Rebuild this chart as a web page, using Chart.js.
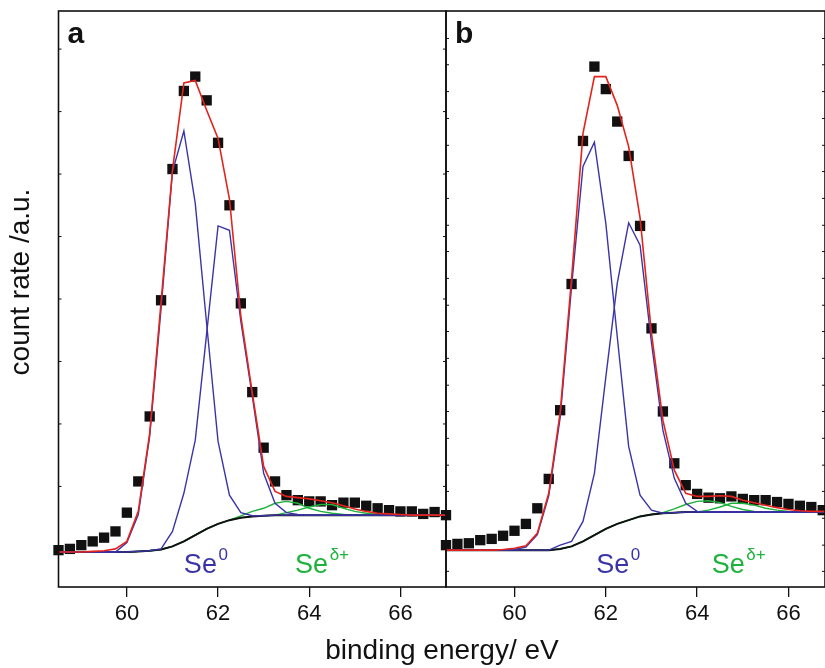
<!DOCTYPE html>
<html>
<head>
<meta charset="utf-8">
<script src="https://cdn.jsdelivr.net/npm/chart.js@4.4.1/dist/chart.umd.min.js"></script>
<style>
    html, body { margin: 0; padding: 0; background: #fff; }
    #fig {
        position: relative;
        width: 825px;
        height: 668px;
        overflow: hidden;
        font-family: "Liberation Sans", Arial, sans-serif;
        color: #111;
    }
    #fig canvas { position: absolute; left: 0; top: 0; }
    .xtitle {
        position: absolute; left: 142px; top: 636px; width: 600px; height: 28px;
        line-height: 28px; font-size: 28px; text-align: center;
    }
    .ytitle {
        position: absolute; left: -129.7px; top: 268px; width: 300px; height: 28px;
        line-height: 28px; font-size: 28px; text-align: center;
        transform: rotate(-90deg);
    }
</style>
</head>
<body>
<div id="fig">
    <canvas id="panelA" width="825" height="668"></canvas>
    <canvas id="panelB" width="825" height="668"></canvas>
    <div class="xtitle">binding energy/ eV</div>
    <div class="ytitle">count rate /a.u.</div>
</div>

<script>
// Binding energy grid (eV)
const energies = [58.5, 58.75, 59, 59.25, 59.5, 59.75, 60, 60.25, 60.5, 60.75,
    61, 61.25, 61.5, 61.75, 62, 62.25, 62.5, 62.75, 63, 63.25,
    63.5, 63.75, 64, 64.25, 64.5, 64.75, 65, 65.25, 65.5, 65.75,
    66, 66.25, 66.5, 66.75, 67];

const xTicks = [60, 62, 64, 66];
const yTicksA = [0, 1, 2, 3, 4, 5, 6, 7, 8];
const yTicksB = [8.17, 7.75, 7.32, 6.89, 6.46, 6.04, 5.61, 5.18, 4.76, 4.33, 3.90,
    3.48, 3.05, 2.62, 2.20, 1.77, 1.34, 0.92, 0.49, 0.06, -0.36];

// Panel a - Se 3d
const measuredA = [-0.02, 0.0, 0.06, 0.12, 0.18, 0.28, 0.58, 1.08, 2.12, 3.98,
    6.08, 7.33, 7.56, 7.18, 6.5, 5.5, 3.93, 2.51, 1.62, 1.08,
    0.86, 0.78, 0.76, 0.76, 0.7, 0.74, 0.74, 0.69, 0.65, 0.62,
    0.6, 0.6, 0.56, 0.59, 0.54];
const envelopeA = [-0.05, -0.05, -0.05, -0.04, -0.03, 0.0, 0.12, 0.6, 1.85, 3.95,
    6.06, 7.46, 7.5, 7.02, 6.57, 5.6, 3.72, 2.5, 1.32, 0.92,
    0.84, 0.82, 0.8, 0.77, 0.74, 0.69, 0.64, 0.6, 0.57, 0.56,
    0.55, 0.54, 0.54, 0.54, 0.54];
const backgroundA = [-0.05, -0.05, -0.05, -0.05, -0.05, -0.05, -0.05, -0.04, -0.03, -0.01,
    0.04, 0.12, 0.22, 0.32, 0.40, 0.46, 0.50, 0.52, 0.53, 0.54,
    0.54, 0.54, 0.54, 0.54, 0.54, 0.54, 0.54, 0.54, 0.54, 0.54,
    0.54, 0.54, 0.54, 0.54, 0.54];
const se0d52A = [-0.05, -0.05, -0.05, -0.05, -0.05, -0.05, 0.1, 0.55, 1.8, 3.85,
    6.04, 6.69, 5.53, 3.6, 1.72, 0.86, 0.58, 0.53, 0.53, 0.54,
    0.54, 0.54, 0.54, 0.54, 0.54, 0.54, 0.54, 0.54, 0.54, 0.54,
    0.54, 0.54, 0.54, 0.54, 0.54];
const se0d32A = [-0.05, -0.05, -0.05, -0.05, -0.05, -0.05, -0.05, -0.04, -0.03, 0.0,
    0.28, 0.89, 1.74, 3.45, 5.17, 5.1, 3.64, 2.45, 1.21, 0.73,
    0.58, 0.55, 0.54, 0.54, 0.54, 0.54, 0.54, 0.54, 0.54, 0.54,
    0.54, 0.54, 0.54, 0.54, 0.54];
const seDd52A = [-0.05, -0.05, -0.05, -0.05, -0.05, -0.05, -0.05, -0.04, -0.03, -0.01,
    0.04, 0.12, 0.22, 0.32, 0.40, 0.46, 0.53, 0.6, 0.65, 0.73,
    0.76, 0.73, 0.65, 0.6, 0.57, 0.55, 0.54, 0.54, 0.54, 0.54,
    0.54, 0.54, 0.54, 0.54, 0.54];
const seDd32A = [-0.05, -0.05, -0.05, -0.05, -0.05, -0.05, -0.05, -0.04, -0.03, -0.01,
    0.04, 0.12, 0.22, 0.32, 0.40, 0.46, 0.50, 0.52, 0.53, 0.54,
    0.58, 0.62, 0.67, 0.71, 0.71, 0.65, 0.6, 0.57, 0.55, 0.54,
    0.54, 0.54, 0.54, 0.54, 0.54];

// Panel b - Se 3d
const measuredB = [0.06, 0.08, 0.09, 0.14, 0.16, 0.21, 0.29, 0.4, 0.65, 1.12,
    2.22, 4.24, 6.53, 7.72, 7.36, 6.84, 6.29, 5.17, 3.53, 2.2,
    1.37, 1.02, 0.88, 0.82, 0.81, 0.84, 0.8, 0.78, 0.78, 0.75,
    0.72, 0.69, 0.67, 0.62];
const envelopeB = [-0.02, -0.02, -0.02, -0.02, -0.02, -0.01, 0.01, 0.05, 0.25, 0.89,
    2.18, 4.33, 6.65, 7.56, 7.56, 7.1, 6.44, 5.3, 3.45, 2.06,
    1.26, 0.89, 0.84, 0.84, 0.85, 0.84, 0.78, 0.74, 0.7, 0.66,
    0.63, 0.61, 0.6, 0.6, 0.6];
const backgroundB = [-0.02, -0.02, -0.02, -0.02, -0.02, -0.02, -0.02, -0.02, -0.02, -0.02,
    0.0, 0.04, 0.12, 0.22, 0.32, 0.4, 0.46, 0.52, 0.55, 0.57,
    0.58, 0.59, 0.59, 0.59, 0.59, 0.59, 0.59, 0.59, 0.59, 0.59,
    0.59, 0.59, 0.59, 0.59, 0.59];
const se0d52B = [-0.02, -0.02, -0.02, -0.02, -0.02, -0.02, -0.01, 0.03, 0.23, 0.85,
    2.1, 4.2, 6.12, 6.51, 5.21, 3.4, 1.64, 0.86, 0.62, 0.57,
    0.58, 0.59, 0.59, 0.59, 0.59, 0.59, 0.59, 0.59, 0.59, 0.59,
    0.59, 0.59, 0.59, 0.59, 0.59];
const se0d32B = [-0.02, -0.02, -0.02, -0.02, -0.02, -0.02, -0.02, -0.02, -0.02, -0.02,
    0.06, 0.12, 0.44, 1.21, 2.75, 4.25, 5.22, 4.86, 3.3, 1.9,
    1.13, 0.73, 0.6, 0.59, 0.59, 0.59, 0.59, 0.59, 0.59, 0.59,
    0.59, 0.59, 0.59, 0.59, 0.59];
const seDd52B = [-0.02, -0.02, -0.02, -0.02, -0.02, -0.02, -0.02, -0.02, -0.02, -0.02,
    0.0, 0.04, 0.12, 0.22, 0.32, 0.4, 0.46, 0.52, 0.55, 0.58,
    0.64, 0.71, 0.76, 0.77, 0.74, 0.68, 0.63, 0.6, 0.59, 0.59,
    0.59, 0.59, 0.59, 0.59, 0.59];
const seDd32B = [-0.02, -0.02, -0.02, -0.02, -0.02, -0.02, -0.02, -0.02, -0.02, -0.02,
    0.0, 0.04, 0.12, 0.22, 0.32, 0.4, 0.46, 0.52, 0.55, 0.57,
    0.58, 0.59, 0.59, 0.62, 0.67, 0.73, 0.73, 0.7, 0.65, 0.62,
    0.6, 0.59, 0.59, 0.59, 0.59];

const colors = {
    ink: '#111111',
    fit: '#e3241d',
    se0: '#3a34a8',
    seD: '#1db23b'
};
const fontFamily = '"Liberation Sans", Arial, sans-serif';

function toPoints(values) {
    return values.map((v, i) => ({ x: energies[i], y: v }));
}

function lineSet(values, color, width, order) {
    return {
        data: toPoints(values),
        showLine: true,
        borderColor: color,
        borderWidth: width,
        pointRadius: 0,
        tension: 0,
        order: order
    };
}

// frame around the plot area, small inward ticks on the intensity axis
const framePlugin = {
    id: 'frame',
    afterDraw(chart) {
        const { ctx, chartArea: a, scales } = chart;
        ctx.save();
        ctx.strokeStyle = colors.ink;
        ctx.lineWidth = 1.6;
        ctx.strokeRect(a.left, a.top, a.right - a.left, a.bottom - a.top);
        ctx.lineWidth = 1;
        ctx.beginPath();
        scales.y.ticks.forEach(t => {
            const py = scales.y.getPixelForValue(t.value);
            ctx.moveTo(a.left, py);
            ctx.lineTo(a.left + 3, py);
            ctx.moveTo(a.right, py);
            ctx.lineTo(a.right - 3, py);
        });
        ctx.stroke();
        ctx.restore();
    }
};

// panel letter and species labels
const labelPlugin = {
    id: 'seLabels',
    afterDatasetsDraw(chart, args, opts) {
        const { ctx, chartArea: a, scales } = chart;
        ctx.save();
        ctx.textBaseline = 'alphabetic';
        ctx.textAlign = 'left';
        ctx.fillStyle = colors.ink;
        ctx.font = 'bold 30px ' + fontFamily;
        ctx.fillText(opts.letter, a.left + 9, a.top + 32);

        opts.species.forEach(s => {
            const px = scales.x.getPixelForValue(s.x);
            const py = scales.y.getPixelForValue(s.y);
            ctx.fillStyle = s.color;
            ctx.font = '27px ' + fontFamily;
            ctx.fillText('Se', px, py);
            const w = ctx.measureText('Se').width;
            ctx.font = '17px ' + fontFamily;
            ctx.fillText(s.sup, px + w + 1.5, py - 13);
        });
        ctx.restore();
    }
};

function makePanel(id, p) {
    const datasets = [
        lineSet(p.envelope, colors.fit, 1.6, 0),
        lineSet(p.d52, colors.se0, 1.4, 1),
        lineSet(p.d32, colors.se0, 1.4, 1),
        lineSet(p.background, colors.ink, 2, 2),
        lineSet(p.dd52, colors.seD, 1.4, 3),
        lineSet(p.dd32, colors.seD, 1.4, 3),
        {
            data: toPoints(p.measured),
            pointStyle: 'rect',
            pointRadius: 7.3,
            backgroundColor: colors.ink,
            borderWidth: 0,
            clip: false,
            order: 5
        }
    ];

    return new Chart(document.getElementById(id), {
        type: 'scatter',
        data: { datasets },
        plugins: [framePlugin, labelPlugin],
        options: {
            responsive: false,
            animation: false,
            devicePixelRatio: 1,
            layout: {
                autoPadding: false,
                padding: { left: p.left, right: p.right, top: 11, bottom: 0 }
            },
            plugins: {
                legend: { display: false },
                tooltip: { enabled: false },
                seLabels: { letter: p.letter, species: p.species }
            },
            scales: {
                x: {
                    type: 'linear',
                    min: 58.5,
                    max: p.xMax,
                    afterBuildTicks: s => { s.ticks = xTicks.map(v => ({ value: v })); },
                    afterFit: s => { s.height = 81; },
                    ticks: {
                        color: colors.ink,
                        padding: 4,
                        maxRotation: 0,
                        font: { family: fontFamily, size: 22 }
                    },
                    grid: {
                        drawOnChartArea: false,
                        drawTicks: true,
                        tickLength: 10,
                        color: colors.ink,
                        lineWidth: 1.3
                    },
                    border: { display: false }
                },
                y: {
                    type: 'linear',
                    min: -0.61,
                    max: 8.61,
                    afterBuildTicks: s => { s.ticks = p.yTicks.map(v => ({ value: v })); },
                    afterFit: s => { s.width = 0; },
                    ticks: { display: false },
                    grid: { display: false },
                    border: { display: false }
                }
            }
        }
    });
}

makePanel('panelA', {
    letter: 'a', left: 58.5, right: 379, xMax: 67, yTicks: yTicksA,
    measured: measuredA, envelope: envelopeA, background: backgroundA,
    d52: se0d52A, d32: se0d32A, dd52: seDd52A, dd32: seDd32A,
    species: [
        { x: 61.25, y: -0.38, sup: '0', color: colors.se0 },
        { x: 63.69, y: -0.38, sup: 'δ+', color: colors.seD }
    ]
});

makePanel('panelB', {
    letter: 'b', left: 446, right: 0, xMax: 66.8, yTicks: yTicksB,
    measured: measuredB, envelope: envelopeB, background: backgroundB,
    d52: se0d52B, d32: se0d32B, dd52: seDd52B, dd32: seDd32B,
    species: [
        { x: 61.79, y: -0.38, sup: '0', color: colors.se0 },
        { x: 64.32, y: -0.38, sup: 'δ+', color: colors.seD }
    ]
});
</script>
</body>
</html>
